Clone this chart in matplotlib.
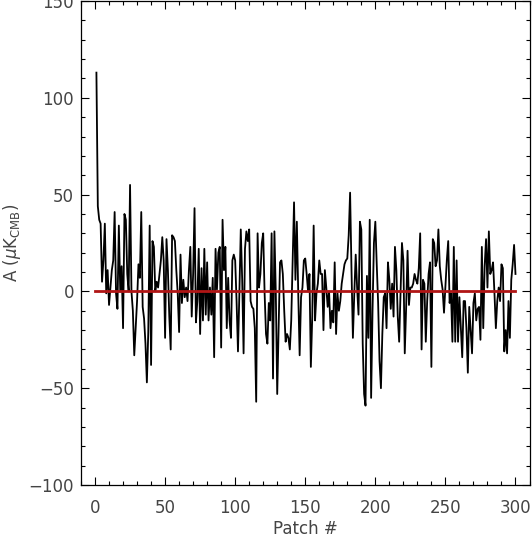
import numpy as np
import matplotlib
matplotlib.use("Agg")
import matplotlib.pyplot as plt

# amplitude per patch (patches 1..300)
amp_part1 = [113, 44, 37, 35, 5, 16, 35, -1, 11, -7, 2, 11, 16, 41, -1, -9, 34, 0, 13, -19,
             40, 37, 9, 0, 55, 0, -10, -33, -19, -5, 14, 7, 41, -8, -14, -27, -47, -21, 34, -38,
             26, 23, 0, 5, 2, 9, 16, 28]
amp_part2 = [16, -24, 27, 11, -13, -30, 29, 28, 26, 11, -1, -21, 19, -6, 6, -3, 2, -5, 11, 23,
             -13, 9, 43, -16, -5, 22, -22, 12, -15, 22, -12, 15, -15, 2, -12, 7, -34, 22, 1, 20,
             23, -29, 37, 11, 23, -19, 7, -15, -24, 16, 19]
amp_part3 = [16, -5, -31, -1, 32, 6, -32, 22, 31, 26, 32, -5, -8, -9, -19, -57, 30, 2, 9, 25,
             30, -1, -22, -27, -6, -15, 30, -45, 31, -1, -53, -19, 15, 16, 9, -10, -26, -22, -24, -30,
             -15, 15, 46, 6, 36, -1, -33, -3, 2, 16, 17, 9, 0, 9]
amp_part4 = [-39, -13, 34, -15, -1, 4, 16, 9, 9, -20, 11, 2, -8, 0, -19, -10, -16, 15, -22, -1,
             -10, -5, 4, 9, 14, 16, 17, 29, 51, 11, -24, -1, 19, 2, -12, 36, 32, -27, -53, -59,
             8, -24, 37, -55, -10, 25, 36, 14, -6, -36, -50]
amp_part5 = [-22, -3, -1, -19, 15, 6, -9, 4, -13, 23, 11, -13, -26, -1, 25, 16, -32, -8, 21, -7,
             2, 2, 4, 9, 6, 4, 12, 30, -30, 6, 4, -26, -5, 9, 15, -39, 27, 25, 13, 16,
             32, 13, 6, 1, -11, 2, 16, 26, -6, -1, -26, 23, -26, 16]
amp_part6 = [-26, -3, -19, -34, -5, -5, -19, -42, -8, -20, -32, -6, -1, -15, -9, -8, -25, 23, -19, 13,
             27, 2, 31, 9, 11, 15, -1, -19, -5, 2, -5, 14, 12, -31, -20, -32, -5, -24, 6, 14,
             24, 9]

amplitude = amp_part1 + amp_part2 + amp_part3 + amp_part4 + amp_part5 + amp_part6
patch = np.arange(1, len(amplitude) + 1)

ref_x = [0, 300]
ref_y = [0, 0]

txt = '#444444'

fig = plt.figure(figsize=(5.32, 5.37), dpi=100)
ax = fig.add_axes([81 / 532, 1 - 485 / 537, 448.5 / 532, 484 / 537])

ax.plot(patch, amplitude, color='black', lw=1.3)
ax.plot(ref_x, ref_y, color='#b01515', lw=2.0)

ax.set_xlim(-10, 310)
ax.set_ylim(-100, 150)
ax.set_xticks(np.arange(0, 301, 50))
ax.set_xticks(np.arange(-10, 311, 10), minor=True)
ax.set_yticks(np.arange(-100, 151, 50))
ax.set_yticks(np.arange(-100, 151, 10), minor=True)

ax.tick_params(which='both', direction='in', top=True, right=True,
               colors='black', labelcolor=txt, labelsize=12)
ax.tick_params(which='major', length=6, width=0.8)
ax.tick_params(which='minor', length=3, width=0.8)
ax.tick_params(axis='x', pad=10)
ax.tick_params(axis='y', pad=5)
for s in ax.spines.values():
    s.set_linewidth(0.9)

ax.set_xlabel('Patch #', fontsize=12, color=txt, labelpad=2)
ax.set_ylabel(r'A ($\mu$K$_{\rm CMB}$)', fontsize=12, color=txt, labelpad=4)

fig.savefig('out.png', dpi=100)
